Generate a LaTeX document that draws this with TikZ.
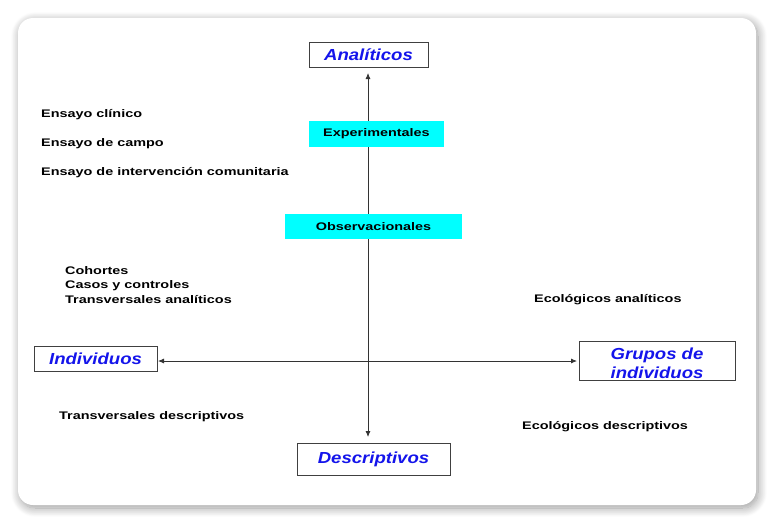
\documentclass[tikz,border=0pt]{standalone}
\usepackage{fontspec}
\setmainfont{Liberation Sans}
\newfontfamily\widefont[FakeStretch=1.31]{Liberation Sans}
\newfontfamily\titlefont[FakeStretch=1.16]{Liberation Sans}
\usetikzlibrary{shadows.blur,arrows.meta}
\definecolor{cyanbox}{RGB}{0,255,255}
\definecolor{titleblue}{RGB}{20,20,235}
\tikzset{
  titlebox/.style={draw=black!75, line width=0.9pt, fill=white, font=\titlefont\bfseries\itshape\fontsize{16}{19}\selectfont, text=titleblue, inner sep=0pt, align=center},
  cyanlabel/.style={fill=cyanbox, font=\widefont\bfseries\fontsize{11}{13}\selectfont, inner sep=0pt},
  plain/.style={font=\widefont\bfseries\fontsize{11}{14.5}\selectfont, anchor=west, inner sep=0pt, align=left},
  axis/.style={line width=0.8pt, black!80, {Latex[length=6pt,width=5pt]}-{Latex[length=6pt,width=5pt]}}
}
\begin{document}
\begin{tikzpicture}[x=1pt,y=-1pt]
\useasboundingbox (0,0) rectangle (774,523);
\fill[white, rounded corners=15pt, blur shadow={shadow xshift=2pt, shadow yshift=-3pt, shadow blur radius=9pt, shadow blur steps=14, shadow blur extra rounding=8pt, shadow opacity=40}] (18,18) rectangle (756,505);
% coordinates for axis ends
\coordinate (top) at (368,73);
\coordinate (bot) at (368,437);
\coordinate (lft) at (158,361);
\coordinate (rgt) at (577,361);
\draw[axis] (lft) -- (rgt);
\draw[axis] (top) -- (bot);
% title boxes
\node[titlebox, minimum width=119pt, minimum height=25pt] (ana) at (368.5,54.5) {Analíticos};
\node[titlebox, minimum width=153pt, minimum height=32pt] (des) at (373.5,459) {Descriptivos};
\node[titlebox, minimum width=123pt, minimum height=25pt] (ind) at (95.5,358.5) {Individuos};
\node[titlebox, minimum width=156pt, minimum height=39pt] (gru) at (657,361) {\raisebox{-4.5pt}[\height][\depth]{\begin{tabular}{@{}c@{}}Grupos de\\individuos\end{tabular}}};
% cyan boxes
\node[cyanlabel, minimum width=135pt, minimum height=26pt] (exp) at (376.5,134) {Experimentales};
\node[cyanlabel, minimum width=177pt, minimum height=25pt] (obs) at (373.5,226.5) {Observacionales};
% plain labels
\node[plain] (e1) at (41,114.5) {Ensayo clínico};
\node[plain] (e2) at (41,143.5) {Ensayo de campo};
\node[plain] (e3) at (41,172.5) {Ensayo de intervención comunitaria};
\node[plain] (c1) at (65,285) {Cohortes\\Casos y controles\\Transversales analíticos};
\node[plain] (ea) at (534,299.5) {Ecológicos analíticos};
\node[plain] (td) at (59,416.5) {Transversales descriptivos};
\node[plain] (ed) at (522,426.5) {Ecológicos descriptivos};
\end{tikzpicture}
\end{document}
